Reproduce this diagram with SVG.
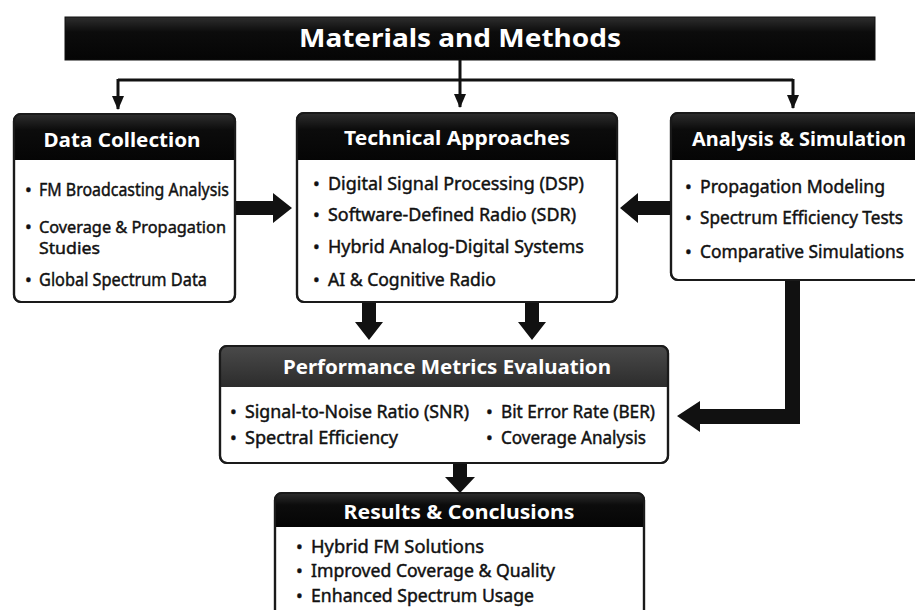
<svg xmlns="http://www.w3.org/2000/svg" width="915" height="610" viewBox="0 0 915 610">
  <defs>
    <linearGradient id="hdr" x1="0" y1="0" x2="0" y2="1">
      <stop offset="0" stop-color="#2e2e2e"/>
      <stop offset="0.35" stop-color="#0c0c0c"/>
      <stop offset="1" stop-color="#050505"/>
    </linearGradient>
    <linearGradient id="hdrGray" x1="0" y1="0" x2="0" y2="1">
      <stop offset="0" stop-color="#4a4a4a"/>
      <stop offset="1" stop-color="#2c2c2c"/>
    </linearGradient>
    <marker id="tip" viewBox="0 0 14 12" refX="13" refY="6" markerWidth="14" markerHeight="12" markerUnits="userSpaceOnUse" orient="auto">
      <path d="M0,0 L14,6 L0,12 Z" fill="#111"/>
    </marker>
    <clipPath id="cDC"><rect x="14" y="114" width="221" height="188" rx="7"/></clipPath>
    <clipPath id="cTA"><rect x="297" y="113" width="320" height="189" rx="7"/></clipPath>
    <clipPath id="cAS"><rect x="671" y="113" width="260" height="167" rx="7"/></clipPath>
    <clipPath id="cPM"><rect x="220" y="346" width="448" height="117" rx="7"/></clipPath>
    <clipPath id="cRC"><rect x="275" y="493" width="369" height="140" rx="7"/></clipPath>
  </defs>
  <style>
    .box { fill: #fff; stroke: #1a1a1a; stroke-width: 2.2; }
    .edge { fill: none; stroke: #1a1a1a; stroke-width: 2.2; }
    .title { font-family: "Noto Sans", "Open Sans", sans-serif; font-weight: bold; fill: #fff; text-anchor: middle; }
    .item { font-family: "Noto Sans", "Open Sans", sans-serif; font-size: 18px; fill: #111; stroke: #111; stroke-width: 0.45; }
    .tight { font-size: 17px; }
    .thin { fill: none; stroke: #111; stroke-width: 3; }
    .fat { fill: #111; }
  </style>

  <!-- top banner -->
  <g id="banner">
    <rect x="65" y="17" width="810" height="43" fill="url(#hdr)" stroke="#111" stroke-width="1"/>
    <text x="460" y="47" class="title" font-size="25" font-weight="600" textLength="322" lengthAdjust="spacingAndGlyphs">Materials and Methods</text>
  </g>

  <!-- connectors -->
  <g id="connectors">
    <!-- banner fan-out -->
    <path class="thin" d="M460,60 L460,107" marker-end="url(#tip)"/>
    <path class="thin" d="M118,80 L793,80"/>
    <path class="thin" d="M118,79 L118,109" marker-end="url(#tip)"/>
    <path class="thin" d="M793,79 L793,108" marker-end="url(#tip)"/>
    <!-- Data Collection to Technical Approaches -->
    <path class="fat" d="M235,201 L273,201 L273,193 L292,208 L273,223 L273,215 L235,215 Z"/>
    <!-- Analysis & Simulation to Technical Approaches -->
    <path class="fat" d="M671,201 L638,201 L638,193 L620,208 L638,223 L638,215 L671,215 Z"/>
    <!-- Technical Approaches down to Performance -->
    <path class="fat" d="M362,302 L376,302 L376,322 L383,322 L369,340 L355,322 L362,322 Z"/>
    <path class="fat" d="M525,302 L539,302 L539,322 L546,322 L532,340 L518,322 L525,322 Z"/>
    <!-- Analysis & Simulation down and left to Performance -->
    <path class="fat" d="M785,280 L800,280 L800,424 L700,424 L700,432 L677,416 L700,401 L700,409 L785,409 Z"/>
    <!-- Performance down to Results -->
    <path class="fat" d="M453,463 L467,463 L467,477 L475,477 L460,493 L445,477 L453,477 Z"/>
  </g>

  <!-- Data Collection -->
  <g id="data-collection">
    <rect class="box" x="14" y="114" width="221" height="188" rx="7"/>
    <rect x="14" y="114" width="221" height="46" fill="url(#hdr)" clip-path="url(#cDC)"/>
    <rect class="edge" x="14" y="114" width="221" height="188" rx="7"/>
    <text x="122" y="147" class="title" font-size="19" textLength="157" lengthAdjust="spacingAndGlyphs">Data Collection</text>
    <text class="item" x="25" y="196">•</text>
    <text class="item" x="39" y="196" textLength="190" lengthAdjust="spacingAndGlyphs">FM Broadcasting Analysis</text>
    <text class="item" x="25" y="233">•</text>
    <text class="item tight" x="39" y="233" textLength="187" lengthAdjust="spacingAndGlyphs">Coverage &amp; Propagation</text>
    <text class="item tight" x="39" y="254" textLength="61" lengthAdjust="spacingAndGlyphs">Studies</text>
    <text class="item" x="25" y="286">•</text>
    <text class="item" x="39" y="286" textLength="168" lengthAdjust="spacingAndGlyphs">Global Spectrum Data</text>
  </g>

  <!-- Technical Approaches -->
  <g id="technical-approaches">
    <rect class="box" x="297" y="113" width="320" height="189" rx="7"/>
    <rect x="297" y="113" width="320" height="47" fill="url(#hdr)" clip-path="url(#cTA)"/>
    <rect class="edge" x="297" y="113" width="320" height="189" rx="7"/>
    <text x="457" y="145" class="title" font-size="19" textLength="226" lengthAdjust="spacingAndGlyphs">Technical Approaches</text>
    <text class="item" x="313" y="190">•</text>
    <text class="item" x="328" y="190" textLength="256" lengthAdjust="spacingAndGlyphs">Digital Signal Processing (DSP)</text>
    <text class="item" x="313" y="221">•</text>
    <text class="item" x="328" y="221" textLength="248" lengthAdjust="spacingAndGlyphs">Software-Defined Radio (SDR)</text>
    <text class="item" x="313" y="253">•</text>
    <text class="item" x="328" y="253" textLength="256" lengthAdjust="spacingAndGlyphs">Hybrid Analog-Digital Systems</text>
    <text class="item" x="313" y="286">•</text>
    <text class="item" x="328" y="286" textLength="168" lengthAdjust="spacingAndGlyphs">AI &amp; Cognitive Radio</text>
  </g>

  <!-- Analysis & Simulation -->
  <g id="analysis-simulation">
    <rect class="box" x="671" y="113" width="260" height="167" rx="7"/>
    <rect x="671" y="113" width="260" height="47" fill="url(#hdr)" clip-path="url(#cAS)"/>
    <rect class="edge" x="671" y="113" width="260" height="167" rx="7"/>
    <text x="799" y="146" class="title" font-size="19" textLength="214" lengthAdjust="spacingAndGlyphs">Analysis &amp; Simulation</text>
    <text class="item" x="685" y="193">•</text>
    <text class="item" x="700" y="193" textLength="185" lengthAdjust="spacingAndGlyphs">Propagation Modeling</text>
    <text class="item" x="685" y="224">•</text>
    <text class="item" x="700" y="224" textLength="203" lengthAdjust="spacingAndGlyphs">Spectrum Efficiency Tests</text>
    <text class="item" x="685" y="258">•</text>
    <text class="item" x="700" y="258" textLength="204" lengthAdjust="spacingAndGlyphs">Comparative Simulations</text>
  </g>

  <!-- Performance Metrics Evaluation -->
  <g id="performance-metrics">
    <rect class="box" x="220" y="346" width="448" height="117" rx="7"/>
    <rect x="220" y="346" width="448" height="41" fill="url(#hdrGray)" clip-path="url(#cPM)"/>
    <rect class="edge" x="220" y="346" width="448" height="117" rx="7"/>
    <text x="447" y="374" class="title" font-size="19" textLength="328" lengthAdjust="spacingAndGlyphs">Performance Metrics Evaluation</text>
    <text class="item" x="230" y="418">•</text>
    <text class="item" x="245" y="418" textLength="224" lengthAdjust="spacingAndGlyphs">Signal-to-Noise Ratio (SNR)</text>
    <text class="item" x="230" y="444">•</text>
    <text class="item" x="245" y="444" textLength="153" lengthAdjust="spacingAndGlyphs">Spectral Efficiency</text>
    <text class="item" x="486" y="418">•</text>
    <text class="item" x="501" y="418" textLength="154" lengthAdjust="spacingAndGlyphs">Bit Error Rate (BER)</text>
    <text class="item" x="486" y="444">•</text>
    <text class="item" x="501" y="444" textLength="145" lengthAdjust="spacingAndGlyphs">Coverage Analysis</text>
  </g>

  <!-- Results & Conclusions -->
  <g id="results-conclusions">
    <rect class="box" x="275" y="493" width="369" height="140" rx="7"/>
    <rect x="275" y="493" width="369" height="34" fill="url(#hdr)" clip-path="url(#cRC)"/>
    <rect class="edge" x="275" y="493" width="369" height="140" rx="7"/>
    <text x="459" y="519" class="title" font-size="19" textLength="231" lengthAdjust="spacingAndGlyphs">Results &amp; Conclusions</text>
    <text class="item" x="296" y="553">•</text>
    <text class="item" x="311" y="553" textLength="173" lengthAdjust="spacingAndGlyphs">Hybrid FM Solutions</text>
    <text class="item" x="296" y="577">•</text>
    <text class="item" x="311" y="577" textLength="244" lengthAdjust="spacingAndGlyphs">Improved Coverage &amp; Quality</text>
    <text class="item" x="296" y="602">•</text>
    <text class="item" x="311" y="602" textLength="223" lengthAdjust="spacingAndGlyphs">Enhanced Spectrum Usage</text>
  </g>
</svg>
